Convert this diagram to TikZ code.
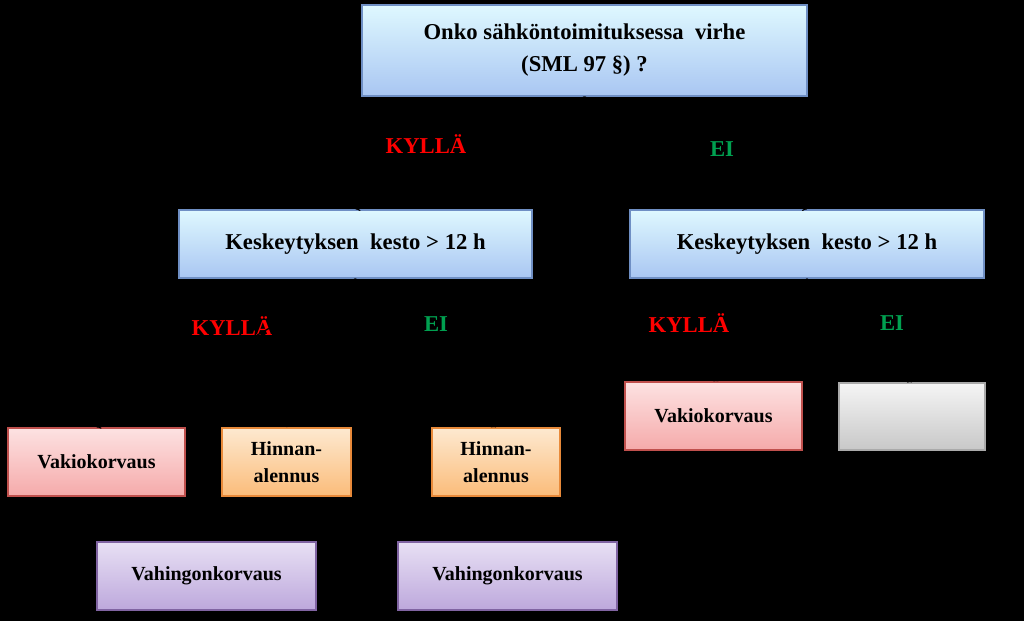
\documentclass[tikz,border=0pt]{standalone}
\usepackage{fontspec}
\setmainfont{Liberation Serif}
\begin{document}
\begin{tikzpicture}[x=0.75pt,y=-0.75pt,
 bx/.style={draw, line width=1.2pt, inner sep=0pt, align=center, font=\bfseries},
 blu/.style={bx, top color=blue!3!white!90!cyan, bottom color={rgb,255:red,169;green,198;blue,242}, draw={rgb,255:red,111;green,143;blue,196}},
 pnk/.style={bx, top color={rgb,255:red,253;green,226;blue,226}, bottom color={rgb,255:red,245;green,170;blue,170}, draw={rgb,255:red,192;green,80;blue,77}},
 org/.style={bx, top color={rgb,255:red,253;green,233;blue,208}, bottom color={rgb,255:red,251;green,188;blue,122}, draw={rgb,255:red,232;green,138;blue,58}},
 prp/.style={bx, top color={rgb,255:red,232;green,224;blue,244}, bottom color={rgb,255:red,189;green,168;blue,220}, draw={rgb,255:red,128;green,100;blue,162}},
 gry/.style={bx, top color={rgb,255:red,245;green,245;blue,245}, bottom color={rgb,255:red,200;green,200;blue,200}, draw={rgb,255:red,170;green,170;blue,170}},
 yes/.style={font=\bfseries\fontsize{17}{20}\selectfont, text={rgb,255:red,255;green,0;blue,0}},
 no/.style={font=\bfseries\fontsize{17}{20}\selectfont, text={rgb,255:red,0;green,160;blue,80}},
 conn/.style={draw=black, line width=1pt, ->}]
\fill[black] (0,0) rectangle (1024,621);
\useasboundingbox (0,0) rectangle (1024,621);
\node[blu, minimum width=445*0.75pt, minimum height=91*0.75pt, font=\bfseries\fontsize{17}{24}\selectfont] (top) at (584.5,50.5) {Onko sähköntoimituksessa\ \ virhe\\(SML 97 §) ?};
\node[blu, minimum width=353*0.75pt, minimum height=68*0.75pt, font=\bfseries\fontsize{17}{20}\selectfont] (k1) at (355.5,244) {Keskeytyksen\ \ kesto > 12 h};
\node[blu, minimum width=354*0.75pt, minimum height=68*0.75pt, font=\bfseries\fontsize{17}{20}\selectfont] (k2) at (807,244) {Keskeytyksen\ \ kesto > 12 h};
\node[pnk, minimum width=177*0.75pt, minimum height=68*0.75pt, font=\bfseries\fontsize{15}{18}\selectfont] (v1) at (96.5,462) {Vakiokorvaus};
\node[org, minimum width=129*0.75pt, minimum height=68*0.75pt, font=\bfseries\fontsize{15}{20}\selectfont] (h1) at (286.5,462) {Hinnan-\\alennus};
\node[org, minimum width=128*0.75pt, minimum height=68*0.75pt, font=\bfseries\fontsize{15}{20}\selectfont] (h2) at (496,462) {Hinnan-\\alennus};
\node[pnk, minimum width=177*0.75pt, minimum height=68*0.75pt, font=\bfseries\fontsize{15}{18}\selectfont] (v2) at (713.5,416) {Vakiokorvaus};
\node[gry, minimum width=146*0.75pt, minimum height=67*0.75pt] (g) at (912,416.5) {};
\node[prp, minimum width=219*0.75pt, minimum height=68*0.75pt, font=\bfseries\fontsize{15}{18}\selectfont] (w1) at (206.5,576) {Vahingonkorvaus};
\node[prp, minimum width=219*0.75pt, minimum height=68*0.75pt, font=\bfseries\fontsize{15}{18}\selectfont] (w2) at (507.5,576) {Vahingonkorvaus};
\node[yes] (l1) at (426,144) {KYLLÄ};
\node[no] (l2) at (722,149) {EI};
\node[yes] (l3) at (232,326) {KYLLÄ};
\node[no] (l4) at (436,324) {EI};
\node[yes] (l5) at (689,323) {KYLLÄ};
\node[no] (l6) at (892,323) {EI};
\begin{scope}[on background layer/.style={}]
\draw[conn] (top.south) -- (k1.north);
\draw[conn] (top.south) -- (k2.north);
\draw[conn] (k1.south) -- (v1.north);
\draw[conn] (k1.south) -- (h1.north);
\draw[conn] (k1.south) -- (h2.north);
\draw[conn] (k2.south) -- (v2.north);
\draw[conn] (k2.south) -- (g.north);
\end{scope}
\end{tikzpicture}
\end{document}
